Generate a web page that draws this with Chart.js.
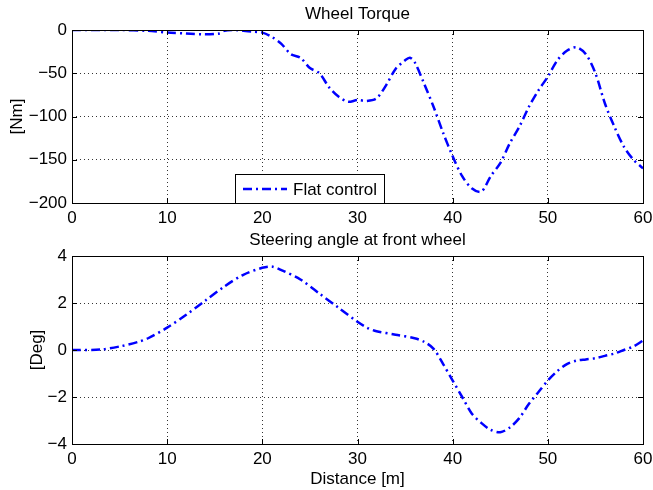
<!DOCTYPE html>
<html>
<head>
<meta charset="utf-8">
<script src="https://cdn.jsdelivr.net/npm/chart.js@4.4.0/dist/chart.umd.min.js"></script>
<style>
  body { margin: 0; background: #fff; }
  #wrap { position: relative; width: 653px; height: 490px; }
  canvas { position: absolute; left: 0; }
  #torque-chart { top: 0; }
  #steering-chart { top: 228px; }
</style>
</head>
<body>
<div id="wrap">
  <canvas id="torque-chart" width="653" height="228"></canvas>
  <canvas id="steering-chart" width="653" height="262"></canvas>
</div>
<script>
// top plot: wheel torque [Nm] vs distance [m]
const torqueDistance = [0, 5, 8, 10, 12, 14, 15.5, 16, 17, 18, 19, 20, 21, 22, 23, 24, 25, 26, 27, 28, 29, 30, 31, 32, 33, 34, 35, 35.5, 36, 37, 38, 39, 40, 41, 42, 43, 44, 45, 46, 47, 48, 49, 50, 51, 52, 53, 54, 55, 56, 57, 58, 59, 60];
const torqueValues = [0, 0, -1, -3, -4, -5, -4, -1, 0, -1, -2, -3, -8, -16, -28, -32, -44, -50, -66, -77, -83, -81, -82, -79, -64, -45, -35, -32, -37, -62, -89, -119, -146, -169, -183, -187, -169, -154, -131, -112, -89, -70, -54, -35, -24, -20, -28, -50, -85, -112, -135, -150, -160];

// bottom plot: steering angle [Deg] vs distance [m]
const steeringDistance = [0, 3, 5, 7, 8, 10, 12, 14, 16, 18, 20, 21, 22, 24, 26, 28, 30, 31, 32, 34, 36, 37, 38, 39, 40, 41, 42, 43, 44, 45, 46, 47, 48, 49, 50, 51, 52, 53, 54, 55, 56, 57, 58, 59, 60];
const steeringValues = [0, 0.02, 0.15, 0.35, 0.5, 0.95, 1.5, 2.1, 2.7, 3.2, 3.5, 3.55, 3.4, 3.0, 2.4, 1.8, 1.2, 0.95, 0.8, 0.65, 0.5, 0.35, 0.05, -0.6, -1.3, -2.0, -2.7, -3.1, -3.4, -3.5, -3.3, -2.9, -2.3, -1.8, -1.3, -0.9, -0.6, -0.45, -0.4, -0.35, -0.25, -0.15, 0.0, 0.15, 0.4];

const seriesLabel = 'Flat control';
const FONT = 'Liberation Sans, Arial, Helvetica, sans-serif';
const FONT_SIZE = 17;

function toPoints(xs, ys) {
    return xs.map((x, i) => ({ x: x, y: ys[i] }));
}

function minusSign(v) {
    return String(v).replace('-', '\u2212');
}

// matlab style frame: box all round and ticks pointing inward
const boxPlugin = {
    id: 'matlabBox',
    afterDraw(chart, args, opts) {
        const ctx = chart.ctx;
        const a = chart.chartArea;
        ctx.save();
        ctx.strokeStyle = '#000';
        ctx.lineWidth = 1;
        ctx.strokeRect(a.left + 0.5, a.top + 0.5, a.right - a.left, a.bottom - a.top);
        ctx.beginPath();
        chart.scales.x.ticks.forEach(t => {
            const px = Math.round(chart.scales.x.getPixelForValue(t.value)) + 0.5;
            ctx.moveTo(px, a.bottom); ctx.lineTo(px, a.bottom - 5);
            ctx.moveTo(px, a.top); ctx.lineTo(px, a.top + 5);
        });
        chart.scales.y.ticks.forEach(t => {
            const py = Math.round(chart.scales.y.getPixelForValue(t.value)) + 0.5;
            ctx.moveTo(a.left, py); ctx.lineTo(a.left + 5, py);
            ctx.moveTo(a.right, py); ctx.lineTo(a.right - 5, py);
        });
        ctx.stroke();

        // title above the axes
        ctx.fillStyle = '#000';
        ctx.font = FONT_SIZE + 'px ' + FONT;
        ctx.textAlign = 'center';
        ctx.textBaseline = 'alphabetic';
        ctx.fillText(opts.text, (a.left + a.right) / 2, a.top - 11);

        if (opts.legend) {
            const lx = a.left + 163, ly = a.top + 144, lw = 149, lh = 29;
            ctx.fillStyle = '#fff';
            ctx.fillRect(lx, ly, lw, lh);
            ctx.strokeStyle = '#000';
            ctx.lineWidth = 1;
            ctx.strokeRect(lx + 0.5, ly + 0.5, lw, lh);
            ctx.strokeStyle = '#0000ff';
            ctx.lineWidth = 2.5;
            ctx.setLineDash([9, 4, 2, 4]);
            ctx.beginPath();
            ctx.moveTo(lx + 8, ly + 15);
            ctx.lineTo(lx + 52, ly + 15);
            ctx.stroke();
            ctx.setLineDash([]);
            ctx.fillStyle = '#000';
            ctx.font = FONT_SIZE + 'px ' + FONT;
            ctx.textAlign = 'left';
            ctx.textBaseline = 'middle';
            ctx.fillText(chart.data.datasets[0].label, lx + 58, ly + 16);
        }
        ctx.restore();
    }
};

function makeChart(canvasId, points, yMin, yMax, yStep, yTitle, yTitlePad, xTitle, titleText, padTop, xAxisHeight, withLegend) {
    const ctx = document.getElementById(canvasId).getContext('2d');
    return new Chart(ctx, {
        type: 'line',
        data: {
            datasets: [{
                label: seriesLabel,
                data: points,
                borderColor: '#0000ff',
                borderWidth: 2.5,
                borderDash: [9, 4, 2, 4],
                pointRadius: 0,
                tension: 0.3,
                fill: false
            }]
        },
        options: {
            responsive: false,
            animation: false,
            layout: { padding: { top: padTop, right: 0, left: 0, bottom: 0 } },
            plugins: {
                legend: { display: false },
                tooltip: { enabled: false },
                matlabBox: { text: titleText, legend: withLegend }
            },
            scales: {
                x: {
                    type: 'linear',
                    min: 0,
                    max: 60,
                    ticks: {
                        stepSize: 10,
                        color: '#000',
                        font: { family: FONT, size: FONT_SIZE },
                        padding: 5,
                        maxRotation: 0
                    },
                    grid: { color: '#000', lineWidth: 0.8, drawTicks: false },
                    border: { display: false, dash: [1, 3] },
                    title: {
                        display: !!xTitle,
                        text: xTitle,
                        color: '#000',
                        font: { family: FONT, size: FONT_SIZE },
                        padding: { top: 0, bottom: 0 }
                    },
                    afterFit(scale) {
                        scale.height = xAxisHeight;
                        scale.paddingLeft = 0;
                        scale.paddingRight = 10;
                    }
                },
                y: {
                    min: yMin,
                    max: yMax,
                    ticks: {
                        stepSize: yStep,
                        color: '#000',
                        font: { family: FONT, size: FONT_SIZE },
                        padding: 5,
                        callback: v => minusSign(v)
                    },
                    grid: { color: '#000', lineWidth: 0.8, drawTicks: false },
                    border: { display: false, dash: [1, 3] },
                    title: {
                        display: true,
                        text: yTitle,
                        color: '#000',
                        font: { family: FONT, size: FONT_SIZE },
                        padding: { top: yTitlePad, bottom: 0 }
                    },
                    afterFit(scale) { scale.width = 72; }
                }
            }
        },
        plugins: [boxPlugin]
    });
}

makeChart('torque-chart', toPoints(torqueDistance, torqueValues), -200, 0, 50,
    '[Nm]', 7, '', 'Wheel Torque', 30, 25, true);
makeChart('steering-chart', toPoints(steeringDistance, steeringValues), -4, 4, 2,
    '[Deg]', 27, 'Distance [m]', 'Steering angle at front wheel', 28, 46, false);
</script>
</body>
</html>
